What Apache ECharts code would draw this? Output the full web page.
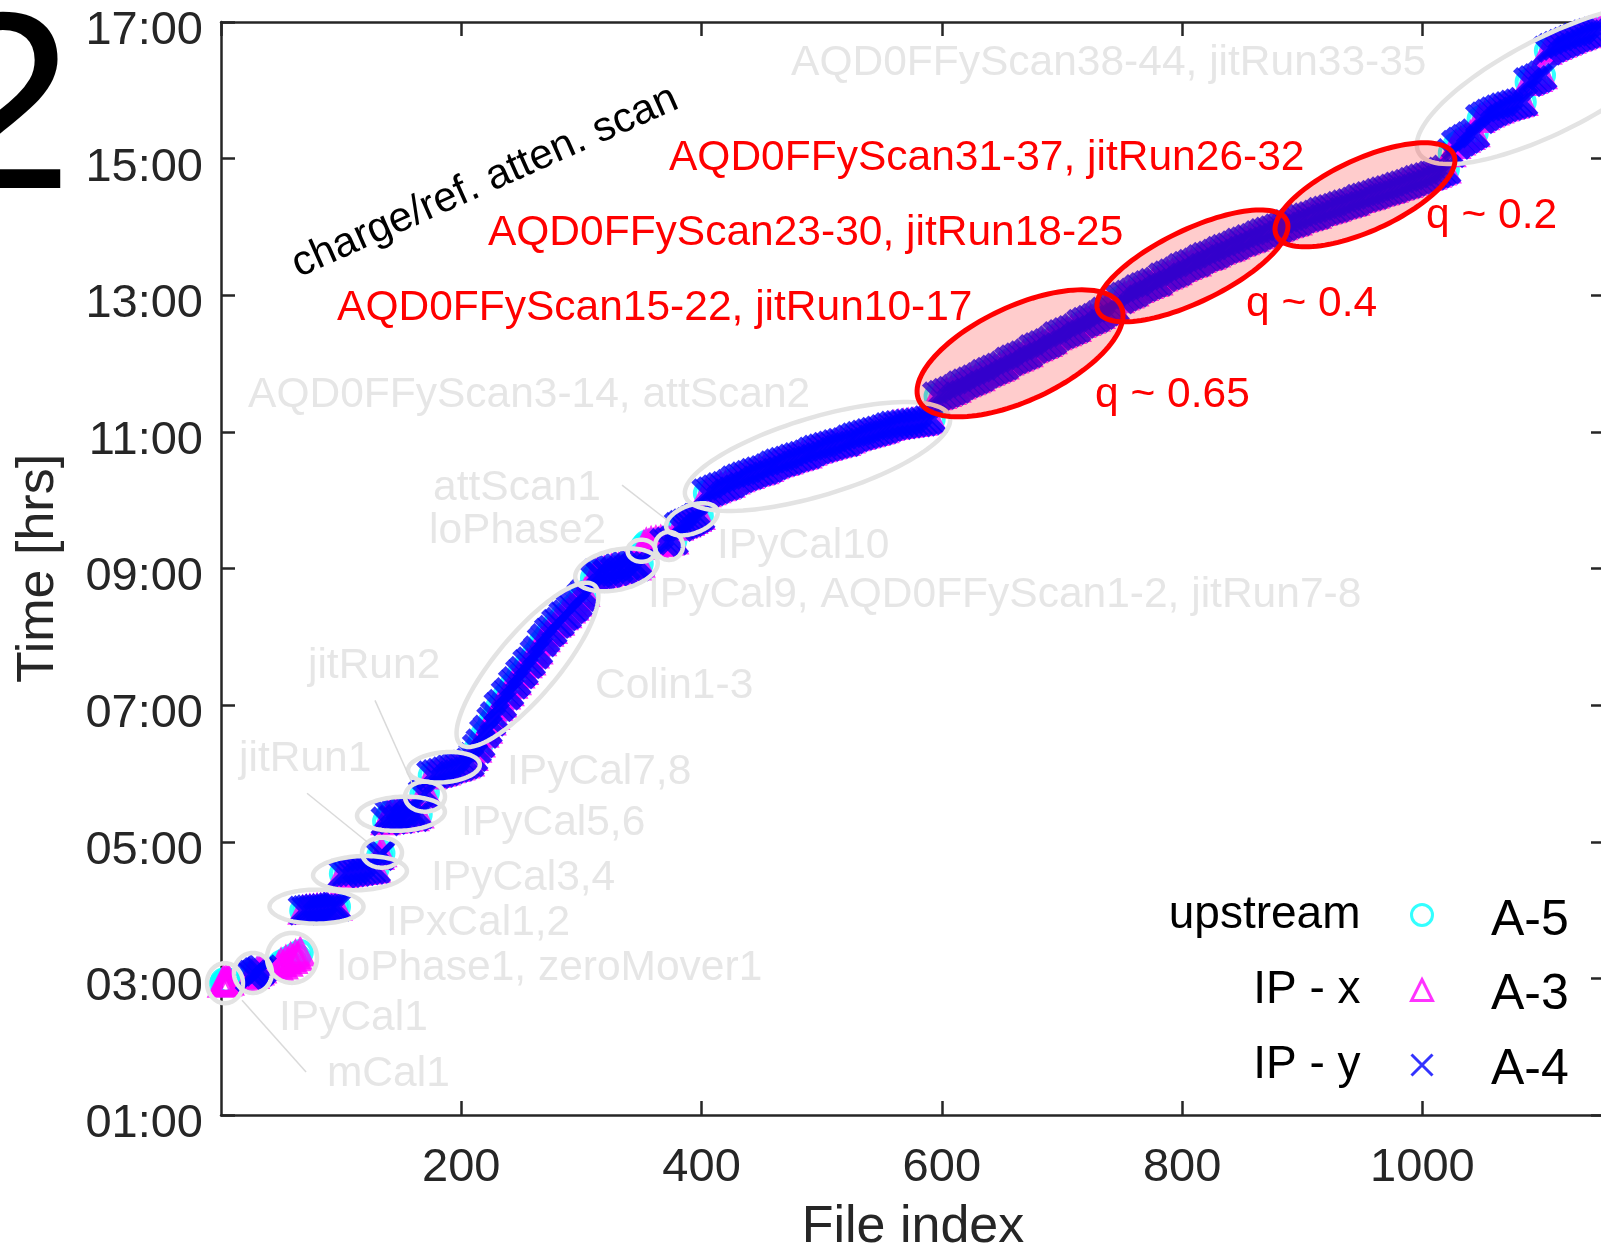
<!DOCTYPE html>
<html><head><meta charset="utf-8">
<script src="https://cdn.jsdelivr.net/npm/echarts@6/dist/echarts.min.js"></script>
<style>html,body{margin:0;padding:0;background:#fff}#chart{width:1601px;height:1248px}</style>
</head><body><div id="chart"></div>
<script>
// ---------------- DATA (file index, time in hours) ----------------
const mCal1      = [[1,2.92],[2,2.96],[3,2.93],[4,2.97],[5,2.94],[6,2.96],[7,2.95]];
const IPyCal1    = [[24,3.02],[26,3.06],[28,3.05],[30,3.09],[32,3.10],[34,3.13]];
const loPhase1   = [[48,3.17],[50,3.22],[52,3.19],[54,3.26],[56,3.23],[58,3.30],[60,3.27],[62,3.34],[64,3.31],[66,3.38]];
const IPxCal12   = [[68,3.99],[71,4.00],[74,4.01],[77,4.01],[80,4.02],[83,4.02],[86,4.03],[89,4.03],[92,4.04],[95,4.05],[97,4.05]];
const IPyCal34   = [[101,4.53],[105,4.54],[109,4.55],[113,4.56],[117,4.57],[121,4.58],[125,4.59],[129,4.60]];
const jitRun1    = [[132,4.79],[134,4.83]];
const IPyCal56   = [[137,5.30],[140,5.40],[143,5.32],[146,5.42],[149,5.33],[152,5.43],[155,5.35],[158,5.45],[161,5.36],[165,5.40]];
const jitRun2    = [[168,5.69],[171,5.72]];
const IPyCal78   = [[175,5.97],[179,5.99],[183,6.01],[187,6.03],[191,6.06],[195,6.08],[199,6.10],[203,6.13],[207,6.16]];
const colin13    = [[210,6.24],[213,6.36],[216,6.44],[219,6.58],[222,6.64],[225,6.76],[228,6.84],[231,6.97],[234,7.02],[237,7.14],
                    [240,7.19],[243,7.30],[246,7.35],[249,7.45],[252,7.50],[255,7.60],[258,7.64],[261,7.74],[264,7.80],[267,7.92],
                    [270,7.98],[273,8.06],[276,8.10],[279,8.19],[282,8.22],[285,8.30],[288,8.33],[291,8.40],[294,8.44],[297,8.50],
                    [300,8.58],[303,8.64]];
const IPyCal9    = [[310,8.86],[313,8.93],[316,8.89],[319,8.96],[322,8.92],[325,8.99],[328,8.95],[331,9.01],[334,8.97],[337,9.04],
                    [340,9.00],[343,9.06],[346,9.03],[349,9.07]];
const loPhase2   = [[352,9.33],[354,9.37],[356,9.35],[358,9.39],[360,9.36],[362,9.40],[364,9.38],[366,9.41]];
const aqdScan1_2 = [[369,9.37],[373,9.39],[377,9.41]];
const IPyCal10   = [[381,9.61],[384,9.64],[387,9.66],[390,9.68],[393,9.71],[396,9.74],[399,9.77]];
const aqdScan3_14 = [[404,10.10],[408,10.13],[412,10.16],[416,10.19],[420,10.21],[424,10.24],
                    [428,10.29],[432,10.32],[436,10.35],[440,10.37],[444,10.40],[448,10.42],[452,10.44],[456,10.47],
                    [460,10.51],[464,10.54],[468,10.56],[472,10.58],[476,10.61],[480,10.63],[484,10.65],[488,10.67],
                    [492,10.71],[496,10.74],[500,10.76],[504,10.78],[508,10.80],[512,10.82],[516,10.84],[520,10.85],
                    [524,10.89],[528,10.92],[532,10.94],[536,10.96],[540,10.98],[544,11.00],[548,11.02],[552,11.04],
                    [556,11.07],[560,11.09],[564,11.10],[568,11.11],[572,11.12],[576,11.13],[580,11.14],[584,11.15],[588,11.17],[592,11.19]];
const aqdScan15_22 = [[596,11.52],[600,11.54],[604,11.57],[608,11.60],[612,11.63],[616,11.68],[620,11.71],[624,11.74],[628,11.77],[632,11.80],
                    [636,11.85],[640,11.88],[644,11.91],[648,11.94],[652,11.97],[656,12.03],[660,12.06],[664,12.09],[668,12.12],[672,12.15],
                    [676,12.21],[680,12.24],[684,12.27],[688,12.30],[692,12.34],[696,12.40],[700,12.43],[704,12.46],[708,12.49],[712,12.52],
                    [716,12.58],[720,12.61],[724,12.64],[728,12.67],[732,12.71],[736,12.76],[740,12.79],[744,12.82]];
const aqdScan23_30 = [[748,12.94],[752,12.98],[756,13.01],[760,13.04],[764,13.09],[768,13.12],[772,13.15],[776,13.18],[780,13.20],
                    [784,13.26],[788,13.29],[792,13.32],[796,13.35],[800,13.40],[804,13.43],[808,13.46],[812,13.48],
                    [816,13.53],[820,13.56],[824,13.58],[828,13.61],[832,13.65],[836,13.68],[840,13.70],[844,13.73],
                    [848,13.77],[852,13.79],[856,13.82],[860,13.84],[864,13.88],[868,13.91],[872,13.93],[876,13.95],[880,13.98]];
const aqdScan31_37 = [[884,14.01],[888,14.04],[892,14.06],[896,14.08],[900,14.12],[904,14.14],[908,14.16],[912,14.18],
                    [916,14.22],[920,14.24],[924,14.26],[928,14.28],[932,14.31],[936,14.33],[940,14.35],[944,14.37],
                    [948,14.41],[952,14.43],[956,14.45],[960,14.47],[964,14.50],[968,14.52],[972,14.54],[976,14.56],
                    [980,14.59],[984,14.61],[988,14.63],[992,14.66],[996,14.69],[1000,14.71],[1004,14.73],[1008,14.75],
                    [1012,14.78],[1016,14.81],[1020,14.84]];
const aqdScan38_44 = [[1024,15.08],[1028,15.20],[1032,15.25],[1036,15.29],[1040,15.33],[1044,15.37],
                    [1048,15.58],[1052,15.62],[1056,15.66],[1060,15.69],[1064,15.72],[1068,15.75],[1072,15.77],[1076,15.79],[1080,15.81],[1084,15.83],
                    [1088,16.12],[1092,16.15],[1096,16.18],[1100,16.22],
                    [1104,16.58],[1108,16.62],[1112,16.65],[1116,16.68],[1120,16.71],[1124,16.74],[1128,16.77],[1132,16.79],[1136,16.82],[1140,16.84],[1144,16.86],[1148,16.88]];

const allRuns = [mCal1, IPyCal1, loPhase1, IPxCal12, IPyCal34, jitRun1, IPyCal56, jitRun2, IPyCal78, colin13, IPyCal9,
                 loPhase2, aqdScan1_2, IPyCal10, aqdScan3_14, aqdScan15_22, aqdScan23_30, aqdScan31_37, aqdScan38_44];
const runsWithoutIPy = [mCal1, loPhase1, loPhase2];

const seriesNames = ['upstream', 'IP - x', 'IP - y'];
const seriesTags  = ['A-5', 'A-3', 'A-4'];
const xTickStep = 200;
const yTickLabels = ['01:00','03:00','05:00','07:00','09:00','11:00','13:00','15:00','17:00'];

// ---------------- ANNOTATIONS (anchored in data coordinates) ----------------
// [fileIndex, hours, rxPx, ryPx, rotationDeg]
const grayEllipses = [
  [3.3,2.93,18,20,0],[26.6,3.08,19,20,0],[59.1,3.30,25,25,0],[79.5,4.05,47,17,0],[115.7,4.54,47,17,3],
  [134.0,4.84,20,15,0],[149.8,5.41,44,17,3],[169.8,5.66,20,15,0],[185.6,6.09,36,15,5],[255.1,7.59,104,31,50],
  [329.2,8.98,42,20,12],[350.0,9.26,14,11,0],[372.9,9.33,14,14,0],[392.0,9.72,27,14,20],[496.5,10.64,138,39,16.7],
  [1108.0,16.09,150,47,27]
];
const redEllipses = [[665.1,12.15,111.5,47,25],[808.6,13.43,104.7,36,25.8],[952.2,14.47,97.5,36,24.5]];
// [x1, t1, x2, t2]
const leaderLines = [[70.8,1.63,17.5,2.68],[71.6,5.71,121.5,5.00],[128.2,7.07,159.0,5.86],[333.8,10.22,371.2,9.71]];
// [text, fileIndex(left), hours(middle)]
const grayNotes = [
  ['AQD0FFyScan38-44, jitRun33-35',474.5,16.40],['AQD0FFyScan3-14, attScan2',22.5,11.54],
  ['attScan1',176.5,10.17],['loPhase2',173.1,9.55],['IPyCal10',412.9,9.32],
  ['IPyCal9, AQD0FFyScan1-2, jitRun7-8',355.4,8.61],['jitRun2',72.4,7.57],['Colin1-3',311.3,7.27],
  ['jitRun1',15.0,6.20],['IPyCal7,8',238.1,6.01],['IPyCal5,6',199.8,5.27],['IPyCal3,4',174.8,4.47],
  ['IPxCal1,2',137.3,3.80],['loPhase1, zeroMover1',96.6,3.15],['IPyCal1',48.3,2.42],['mCal1',88.2,1.59]
];
const redNotes = [
  ['AQD0FFyScan31-37, jitRun26-32',372.9,15.01],['AQD0FFyScan23-30, jitRun18-25',222.2,13.90],
  ['AQD0FFyScan15-22, jitRun10-17',96.6,12.81],['q ~ 0.65',727.5,11.54],['q ~ 0.4',853.2,12.87],['q ~ 0.2',1003.0,14.15]
];
const blackNotes = [['charge/ref. atten. scan',219.7,14.66,24]];

// ---------------- BUILD ----------------
const FONT = '"Liberation Sans", Arial, Helvetica, sans-serif';
const AX = '#262626';
const allPts = [].concat(...allRuns);
const ipyPts = [].concat(...allRuns.filter(r => runsWithoutIPy.indexOf(r) < 0));
const CROSS = 'path://M0,0L10,10M10,0L0,10';

function ellipseRender(style) {
  return function (params, api) {
    const c = api.coord([api.value(0), api.value(1)]);
    const rx = api.value(2), ry = api.value(3), th = api.value(4) * Math.PI / 180;
    const pts = [];
    for (let k = 0; k < 120; k++) {
      const f = k / 120 * 2 * Math.PI;
      const u = rx * Math.cos(f), v = ry * Math.sin(f);
      pts.push([c[0] + u * Math.cos(th) + v * Math.sin(th), c[1] - u * Math.sin(th) + v * Math.cos(th)]);
    }
    return { type: 'polygon', shape: { points: pts }, style: style };
  };
}
function textRender(list, color, size) {
  return function (params, api) {
    const c = api.coord([api.value(0), api.value(1)]);
    const n = list[params.dataIndex];
    return { type: 'text', x: c[0], y: c[1], rotation: (n[3] || 0) * Math.PI / 180,
      style: { text: n[0], fill: color, font: size + 'px ' + FONT, align: n[3] ? 'center' : 'left', verticalAlign: 'middle' } };
  };
}

const axisCommon = {
  axisLine: { show: true, onZero: false, lineStyle: { color: AX, width: 2.5 } },
  axisTick: { show: true, inside: true, length: 14, lineStyle: { color: AX, width: 2.5 } },
  splitLine: { show: false }
};

const chart = echarts.init(document.getElementById('chart'), null, { renderer: 'canvas' });
chart.setOption({
  animation: false,
  backgroundColor: '#fff',
  grid: { left: 221, right: -4, top: 22, bottom: 133, containLabel: false, outerBoundsMode: 'none' },
  xAxis: [
    Object.assign({ type: 'value', min: 0, max: 1152, interval: xTickStep, position: 'bottom',
      axisLabel: { fontSize: 47, color: AX, fontFamily: FONT, margin: 30, showMinLabel: false, showMaxLabel: false,
        formatter: v => (v === 0 || v % xTickStep !== 0) ? '' : String(v) },
      name: 'File index', nameLocation: 'middle', nameGap: 87, nameMoveOverlap: false,
      nameTextStyle: { fontSize: 52, color: AX, fontFamily: FONT } }, axisCommon),
    Object.assign({ type: 'value', min: 0, max: 1152, interval: xTickStep, position: 'top', axisLabel: { show: false } }, axisCommon)
  ],
  yAxis: [
    Object.assign({ type: 'value', min: 1, max: 17, interval: 2, position: 'left',
      axisLabel: { fontSize: 47, color: AX, fontFamily: FONT, margin: 18, verticalAlign: 'top', lineHeight: 18,
        formatter: v => yTickLabels[(v - 1) / 2] },
      name: 'Time [hrs]', nameLocation: 'middle', nameGap: 156, nameMoveOverlap: false,
      nameTextStyle: { fontSize: 52, color: AX, fontFamily: FONT } }, axisCommon),
    Object.assign({ type: 'value', min: 1, max: 17, interval: 2, position: 'right', axisLabel: { show: false } }, axisCommon)
  ],
  legend: seriesNames.map((nm, i) => ({
    data: [{ name: nm, icon: ['circle', 'triangle', CROSS][i],
      itemStyle: { color: 'rgba(0,0,0,0)', borderColor: ['#00ffff', '#ff00ff', '#0000ff'][i], borderWidth: 3 } }],
    orient: 'vertical', align: 'right', right: 167, top: [892, 967, 1042][i], padding: 0,
    itemWidth: 21, itemHeight: 21, selectedMode: false,
    textStyle: { fontSize: 46, color: '#000', fontFamily: FONT, lineHeight: 46, padding: [0, 46, 0, 0] }
  })),
  graphic: [
    { type: 'text', x: 73, y: 118, style: { text: '2', font: '253px ' + FONT, fill: '#000', align: 'right', verticalAlign: 'middle' } }
  ].concat(seriesTags.map((t, i) => ({ type: 'text', x: 1491, y: [921, 995, 1070][i],
      style: { text: t, font: '50px ' + FONT, fill: '#000', align: 'left', verticalAlign: 'middle' } }))),
  series: [
    { name: 'upstream', type: 'scatter', data: allPts, symbol: 'circle', symbolSize: 23, z: 2,
      itemStyle: { color: 'rgba(0,0,0,0)', borderColor: '#00ffff', borderWidth: 4 } },
    { name: 'IP - x', type: 'scatter', data: allPts, symbol: 'triangle', symbolSize: 23, z: 2,
      itemStyle: { color: 'rgba(0,0,0,0)', borderColor: '#ff00ff', borderWidth: 5 } },
    { name: 'IP - y', type: 'scatter', data: ipyPts, symbol: CROSS, symbolSize: 26, z: 2,
      itemStyle: { color: 'rgba(0,0,0,0)', borderColor: '#0000ff', borderWidth: 6 } },
    { type: 'custom', coordinateSystem: 'cartesian2d', data: grayEllipses, encode: { x: 0, y: 1 }, z: 3, silent: true,
      renderItem: ellipseRender({ fill: 'none', stroke: '#e3e3e3', lineWidth: 4.5 }) },
    { type: 'custom', coordinateSystem: 'cartesian2d', data: redEllipses, encode: { x: 0, y: 1 }, z: 4, silent: true,
      renderItem: ellipseRender({ fill: 'rgba(255,0,0,0.2)', stroke: '#ff0000', lineWidth: 5 }) },
    { type: 'custom', coordinateSystem: 'cartesian2d', data: leaderLines, encode: { x: [0, 2], y: [1, 3] }, z: 3, silent: true,
      renderItem: function (params, api) {
        const a = api.coord([api.value(0), api.value(1)]), b = api.coord([api.value(2), api.value(3)]);
        return { type: 'line', shape: { x1: a[0], y1: a[1], x2: b[0], y2: b[1] }, style: { stroke: '#dadada', lineWidth: 1.5 } };
      } },
    { type: 'custom', coordinateSystem: 'cartesian2d', data: grayNotes.map(n => [n[1], n[2]]), encode: { x: 0, y: 1 }, z: 5, silent: true,
      renderItem: textRender(grayNotes, '#e6e6e6', 42.5) },
    { type: 'custom', coordinateSystem: 'cartesian2d', data: redNotes.map(n => [n[1], n[2]]), encode: { x: 0, y: 1 }, z: 5, silent: true,
      renderItem: textRender(redNotes, '#ff0000', 42.5) },
    { type: 'custom', coordinateSystem: 'cartesian2d', data: blackNotes.map(n => [n[1], n[2]]), encode: { x: 0, y: 1 }, z: 5, silent: true,
      renderItem: textRender(blackNotes, '#000000', 42) }
  ]
});
</script></body></html>
